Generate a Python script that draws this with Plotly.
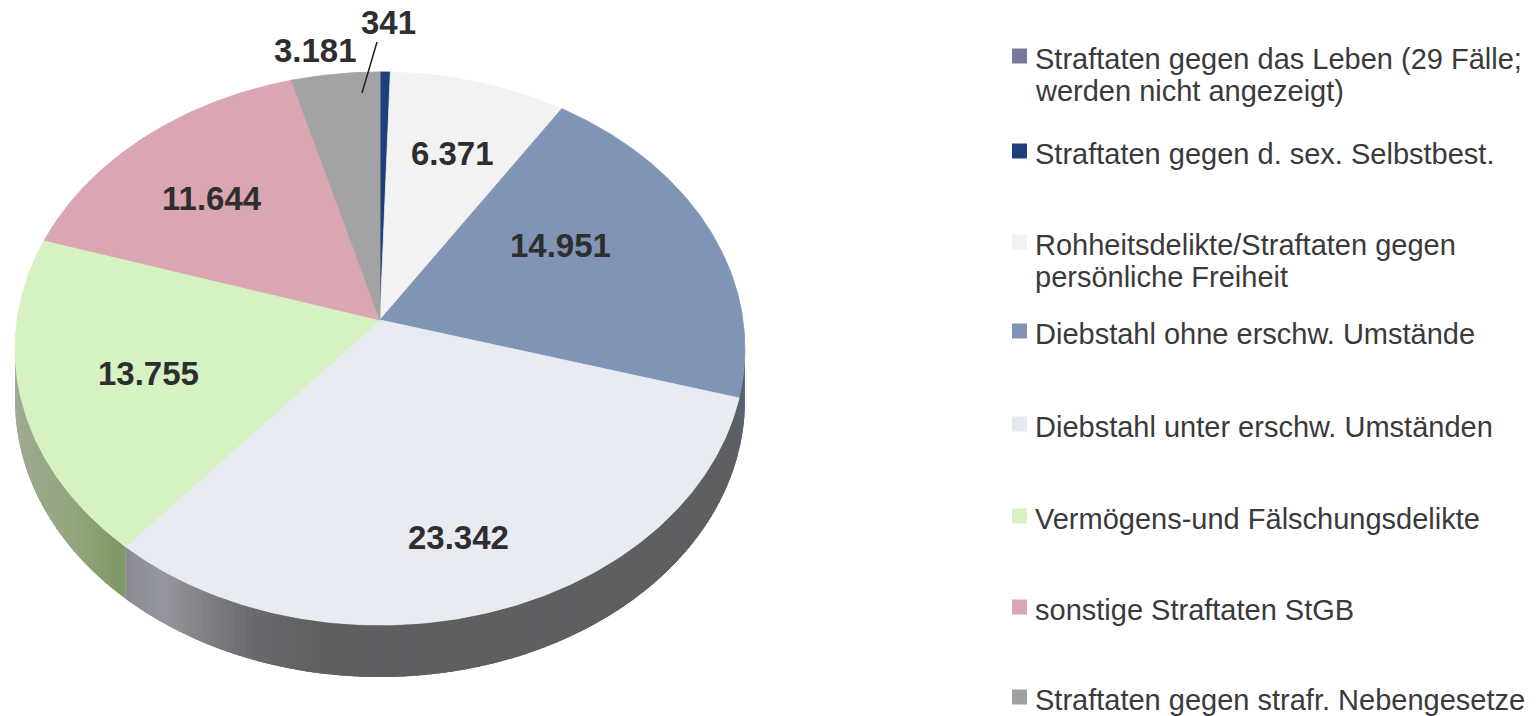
import numpy as np
import plotly.graph_objects as go

# ---------------- data ----------------
categories = [
    "Straftaten gegen das Leben (29 Fälle; werden nicht angezeigt)",
    "Straftaten gegen d. sex. Selbstbest.",
    "Rohheitsdelikte/Straftaten gegen persönliche Freiheit",
    "Diebstahl ohne erschw. Umstände",
    "Diebstahl unter erschw. Umständen",
    "Vermögens-und Fälschungsdelikte",
    "sonstige Straftaten StGB",
    "Straftaten gegen strafr. Nebengesetze",
]
values = [29, 341, 6371, 14951, 23342, 13755, 11644, 3181]
show_label = [False, True, True, True, True, True, True, True]

legend_lines = [
    ["Straftaten gegen das Leben (29 Fälle;", "werden nicht angezeigt)"],
    ["Straftaten gegen d. sex. Selbstbest."],
    ["Rohheitsdelikte/Straftaten gegen", "persönliche Freiheit"],
    ["Diebstahl ohne erschw. Umstände"],
    ["Diebstahl unter erschw. Umständen"],
    ["Vermögens-und Fälschungsdelikte"],
    ["sonstige Straftaten StGB"],
    ["Straftaten gegen strafr. Nebengesetze"],
]

# ---------------- styles ----------------
top_colors = ["#7b7ba0", "#1f3f7a", "#f2f2f2", "#8094b6", "#e8ebf1",
              "#d6f1c2", "#d9a6b1", "#a3a3a3"]
legend_colors = ["#77779c", "#1f3f7a", "#f2f2f2", "#8193b5", "#e6e9f0",
                 "#d6f2c2", "#d9a6b1", "#a0a0a0"]
# side colour stops per slice: list of (angle, (r,g,b))
side_stops = {
    2: [(0, (200, 200, 200)), (360, (200, 200, 200))],
    3: [(0, (88, 98, 116)), (360, (88, 98, 116))],
    4: [(0, (94, 95, 97)), (188, (94, 95, 97)), (198, (104, 105, 108)),
        (206, (128, 129, 133)), (213, (150, 151, 158)), (220, (138, 140, 146))],
    5: [(0, (128, 152, 100)), (221, (128, 152, 100)), (232, (148, 166, 126)),
        (264.1, (164, 172, 154)), (360, (164, 172, 154))],
    6: [(0, (170, 130, 140)), (360, (170, 130, 140))],
}

# label positions (pixel layout positions of the value texts)
label_xy = [None, (388, 22), (452, 153), (560, 245), (458, 537),
            (148, 373), (212, 198), (315, 50)]
legend_y = [57, 152, 243, 332, 425, 517, 608, 698]

W, H = 1538, 716
CX, CY = 380, 320
A, B, K = 363.0, 273.6, 0.103
DEPTH = 52


def proj(theta_deg, r=1.0):
    t = np.radians(theta_deg)
    d = 1 + K * r * np.cos(t)
    return CX + A * r * np.sin(t) / d, CY - B * r * np.cos(t) / d


def interp_color(stops, th):
    angs = [s[0] for s in stops]
    cols = np.array([s[1] for s in stops], dtype=float)
    c = [np.interp(th, angs, cols[:, j]) for j in range(3)]
    return "rgb(%d,%d,%d)" % tuple(int(round(v)) for v in c)


total = float(sum(values))
cum = np.concatenate([[0.0], np.cumsum(values)]) / total * 360.0

fig = go.Figure()

# ---- side walls (drawn as overlapping strips for a smooth gradient) ----
t_right = np.degrees(np.arccos(-K))
t_left = 360 - t_right
for i in range(len(values)):
    a, b = max(cum[i], t_right), min(cum[i + 1], t_left)
    if b <= a:
        continue
    stops = side_stops.get(i, [(0, (120, 120, 120)), (360, (120, 120, 120))])
    n = max(1, int(np.ceil((b - a) / 1.0)))
    edges = np.linspace(a, b, n + 1)
    for j in range(n):
        hi = b if j == n - 1 else min(b, edges[j + 1] + 1.2)
        th = np.linspace(edges[j], hi, 8)
        xs, ys = proj(th)
        px = np.concatenate([xs, xs[::-1]])
        py = np.concatenate([ys, ys[::-1] + DEPTH])
        col = interp_color(stops, (edges[j] + edges[j + 1]) / 2)
        fig.add_trace(go.Scatter(x=px, y=py, mode="lines", fill="toself",
                                 fillcolor=col, line=dict(width=0),
                                 hoverinfo="skip", showlegend=False))

# ---- top faces ----
for i in range(len(values)):
    a, b = cum[i], cum[i + 1]
    n = max(2, int(np.ceil((b - a) / 0.5)) + 1)
    th = np.linspace(a, b, n)
    xs, ys = proj(th)
    px = np.concatenate([[CX], xs, [CX]])
    py = np.concatenate([[CY], ys, [CY]])
    fig.add_trace(go.Scatter(x=px, y=py, mode="lines", fill="toself",
                             fillcolor=top_colors[i],
                             line=dict(color=top_colors[i], width=0.8),
                             name=categories[i], hoverinfo="name",
                             showlegend=False))

# ---- value labels ----
for i, v in enumerate(values):
    if not show_label[i]:
        continue
    x, y = label_xy[i]
    fig.add_annotation(x=x, y=y, xref="x", yref="y", showarrow=False,
                       text="<b>%s</b>" % f"{v:,}".replace(",", "."),
                       font=dict(family="Liberation Sans, Arial", size=33,
                                 color="#2e2e2e"),
                       xanchor="center", yanchor="middle")

# leader line for the small slice label
fig.add_shape(type="line", x0=377, y0=42, x1=362, y1=93, xref="x", yref="y",
              line=dict(color="#222222", width=1.5))

# ---- legend (manual, to match spacing) ----
fig.add_trace(go.Scatter(x=[1019.5] * len(values), y=[y - 1 for y in legend_y],
                         mode="markers",
                         marker=dict(symbol="square", size=15, color=legend_colors,
                                     line=dict(width=0)),
                         hoverinfo="skip", showlegend=False))
for i, lines in enumerate(legend_lines):
    for k, line in enumerate(lines):
        fig.add_annotation(x=1033, y=legend_y[i] + k * 32 + 2, xref="x", yref="y",
                           showarrow=False, text=line,
                           font=dict(family="Liberation Sans, Arial", size=29,
                                     color="#3a3a3a"),
                           xanchor="left", yanchor="middle")

fig.update_layout(
    width=W, height=H, margin=dict(l=0, r=0, t=0, b=0),
    paper_bgcolor="white", plot_bgcolor="white",
    xaxis=dict(range=[0, W], visible=False, fixedrange=True),
    yaxis=dict(range=[H, 0], visible=False, fixedrange=True),
    showlegend=False,
)

fig.write_html("out.html", config={"displayModeBar": False},
               post_script="document.body.style.margin='0';document.body.style.overflow='hidden';")
